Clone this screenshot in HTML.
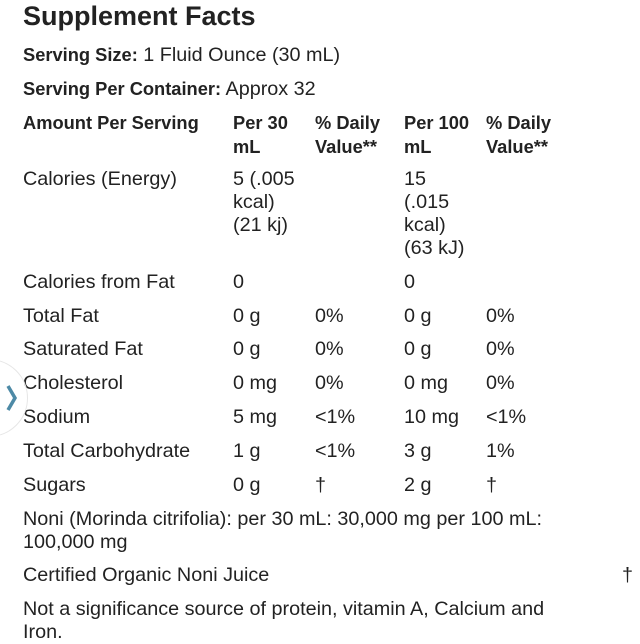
<!DOCTYPE html>
<html><head><style>
body{margin:0;width:640px;height:640px;background:#fff;position:relative;overflow:hidden;font-family:"Liberation Sans",sans-serif;color:#222;}
.t{position:absolute;font-size:19.8px;line-height:23px;white-space:nowrap;}
b{font-weight:bold;font-size:18.3px;}
</style></head><body>
<div class="t" style="left:23px;top:0px;font-size:27px;line-height:32px;font-weight:bold;">Supplement Facts</div>
<div class="t" style="left:23px;top:43px;"><b>Serving Size:</b> 1 Fluid Ounce (30 mL)</div>
<div class="t" style="left:23px;top:77px;"><b>Serving Per Container:</b> Approx 32</div>
<div class="t" style="left:23px;top:111px;"><b>Amount Per Serving</b></div>
<div class="t" style="left:233px;top:111px;"><b>Per 30<br>mL</b></div>
<div class="t" style="left:315px;top:111px;"><b>% Daily<br>Value**</b></div>
<div class="t" style="left:404px;top:111px;"><b>Per 100<br>mL</b></div>
<div class="t" style="left:486px;top:111px;"><b>% Daily<br>Value**</b></div>
<div class="t" style="left:23px;top:168px;">Calories (Energy)</div>
<div class="t" style="left:233px;top:168px;">5 (.005<br>kcal)<br>(21 kj)</div>
<div class="t" style="left:404px;top:168px;">15<br>(.015<br>kcal)<br>(63 kJ)</div>
<div class="t" style="left:23px;top:271px;">Calories from Fat</div><div class="t" style="left:233px;top:271px;">0</div><div class="t" style="left:404px;top:271px;">0</div>
<div class="t" style="left:23px;top:305px;">Total Fat</div><div class="t" style="left:233px;top:305px;">0 g</div><div class="t" style="left:315px;top:305px;">0%</div><div class="t" style="left:404px;top:305px;">0 g</div><div class="t" style="left:486px;top:305px;">0%</div>
<div class="t" style="left:23px;top:338px;">Saturated Fat</div><div class="t" style="left:233px;top:338px;">0 g</div><div class="t" style="left:315px;top:338px;">0%</div><div class="t" style="left:404px;top:338px;">0 g</div><div class="t" style="left:486px;top:338px;">0%</div>
<div class="t" style="left:23px;top:372px;">Cholesterol</div><div class="t" style="left:233px;top:372px;">0 mg</div><div class="t" style="left:315px;top:372px;">0%</div><div class="t" style="left:404px;top:372px;">0 mg</div><div class="t" style="left:486px;top:372px;">0%</div>
<div class="t" style="left:23px;top:406px;">Sodium</div><div class="t" style="left:233px;top:406px;">5 mg</div><div class="t" style="left:315px;top:406px;">&lt;1%</div><div class="t" style="left:404px;top:406px;">10 mg</div><div class="t" style="left:486px;top:406px;">&lt;1%</div>
<div class="t" style="left:23px;top:440px;">Total Carbohydrate</div><div class="t" style="left:233px;top:440px;">1 g</div><div class="t" style="left:315px;top:440px;">&lt;1%</div><div class="t" style="left:404px;top:440px;">3 g</div><div class="t" style="left:486px;top:440px;">1%</div>
<div class="t" style="left:23px;top:474px;">Sugars</div><div class="t" style="left:233px;top:474px;">0 g</div><div class="t" style="left:315px;top:474px;">†</div><div class="t" style="left:404px;top:474px;">2 g</div><div class="t" style="left:486px;top:474px;">†</div>
<div class="t" style="left:23px;top:508px;">Noni (Morinda citrifolia): per 30 mL: 30,000 mg per 100 mL:<br>100,000 mg</div>
<div class="t" style="left:23px;top:564px;">Certified Organic Noni Juice</div><div class="t" style="left:622px;top:564px;">†</div>
<div class="t" style="left:23px;top:598px;">Not a significance source of protein, vitamin A, Calcium and<br>Iron.</div>
<div style="position:absolute;left:-50px;top:359px;width:76px;height:76px;border-radius:50%;border:1px solid #e6e6e6;background:rgba(255,255,255,0.6);"></div>
<svg style="position:absolute;left:0;top:380px" width="24" height="36"><polyline points="8,6 15,18 8,30" fill="none" stroke="#4d8aa6" stroke-width="3.5"/></svg>
</body></html>
